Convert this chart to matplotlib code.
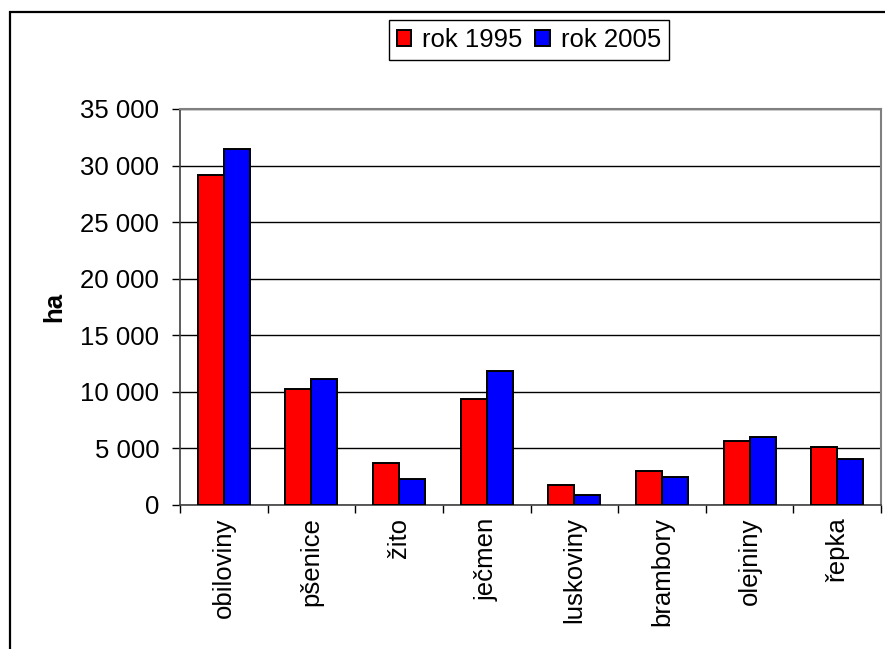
import matplotlib
matplotlib.use("Agg")
import matplotlib.pyplot as plt
import numpy as np
from matplotlib.patches import Rectangle
from matplotlib.ticker import FuncFormatter, FixedLocator

plt.rcParams['font.family'] = ['Liberation Sans', 'DejaVu Sans']

categories = ["obiloviny", "pšenice", "žito", "ječmen", "luskoviny", "brambory", "olejniny", "řepka"]
series_names = ["rok 1995", "rok 2005"]
values_1995 = [29200, 10250, 3700, 9350, 1770, 3000, 5650, 5100]
values_2005 = [31450, 11150, 2300, 11850, 880, 2500, 6050, 4070]
y_ticks = [0, 5000, 10000, 15000, 20000, 25000, 30000, 35000]
colors = ["#FF0000", "#0000FF"]

W, H = 885, 649
fig = plt.figure(figsize=(W / 100, H / 100), dpi=100)
fig.patch.set_facecolor("white")

# outer chart frame
fig.patches.append(Rectangle((9.5 / W, 0 - 0.01), 1.1, 1 - 11.5 / H + 0.01,
                             transform=fig.transFigure, fill=False,
                             edgecolor="black", linewidth=1.6, zorder=0))

ax = fig.add_axes([180 / W, (H - 505) / H, (881 - 180) / W, (505 - 109) / H])

x = np.arange(len(categories))
bw = 0.297
ax.bar(x - bw / 2, values_1995, bw, color=colors[0], edgecolor="black", linewidth=1.4,
       label=series_names[0], zorder=3)
ax.bar(x + bw / 2, values_2005, bw, color=colors[1], edgecolor="black", linewidth=1.4,
       label=series_names[1], zorder=3)

ax.set_xlim(-0.5, len(categories) - 0.5)
ax.set_ylim(0, 35000)
ax.set_yticks(y_ticks)
ax.yaxis.set_major_formatter(FuncFormatter(lambda v, p: f"{int(v):,}".replace(",", " ")))
ax.yaxis.grid(True, color="black", linewidth=1.0, zorder=1)
ax.set_axisbelow(True)

fs = 18.5
ax.set_xticks(x)
ax.set_xticklabels(categories, rotation=90, fontsize=fs)
ax.tick_params(axis="x", which="major", length=0, pad=9)
ax.xaxis.set_minor_locator(FixedLocator(np.arange(-0.5, len(categories), 1.0)))
ax.tick_params(axis="x", which="minor", length=6, width=1, direction="out", color="black")
ax.tick_params(axis="y", labelsize=fs, length=6, width=1, direction="out", pad=9)

ax.set_ylabel("ha", fontsize=fs, fontweight="bold", labelpad=10)

for s in ["top", "right"]:
    ax.spines[s].set_color("#808080")
    ax.spines[s].set_linewidth(1.5)
for s in ["left", "bottom"]:
    ax.spines[s].set_color("#404040")
    ax.spines[s].set_linewidth(1.2)

leg = fig.legend(loc="center", bbox_to_anchor=(529 / W, 1 - 40 / H), ncol=2,
                 fontsize=fs, frameon=True, fancybox=False, shadow=False,
                 edgecolor="black", framealpha=1, handlelength=0.55, handleheight=0.55,
                 handletextpad=0.45, columnspacing=0.5, borderpad=0.3, borderaxespad=0)
leg.get_frame().set_linewidth(1.0)

fig.savefig("out.png", dpi=100, facecolor="white")
